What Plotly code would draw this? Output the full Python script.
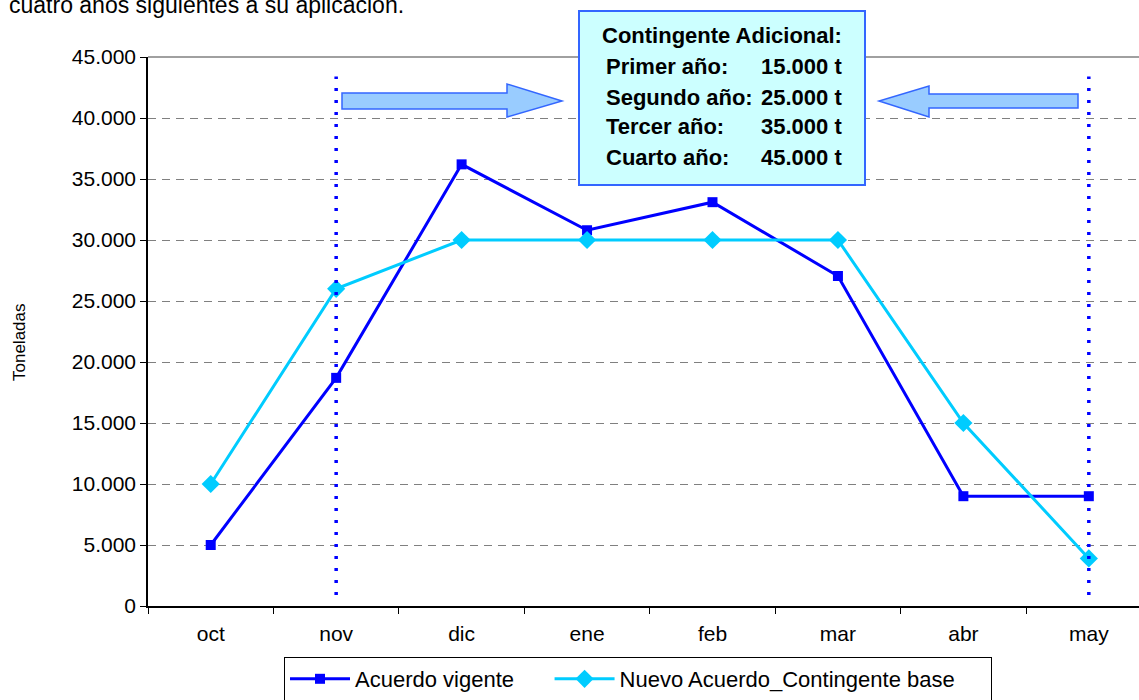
import plotly.graph_objects as go

MESES = ["oct", "nov", "dic", "ene", "feb", "mar", "abr", "may"]
ACUERDO_VIGENTE = [5000, 18700, 36200, 30800, 33100, 27050, 9000, 9000]
NUEVO_ACUERDO = [10000, 26000, 30000, 30000, 30000, 30000, 15000, 3900]

Y_TICKS = list(range(0, 45001, 5000))

CONTINGENTE_TITULO = "Contingente Adicional:"
CONTINGENTE_ANIOS = ["Primer año:", "Segundo año:", "Tercer año:", "Cuarto año:"]
CONTINGENTE_VALORES = ["15.000 t", "25.000 t", "35.000 t", "45.000 t"]

W, H = 1139, 700
L, R, T, B = 148, 0, 57, 94
PW, PH = W - L - R, H - T - B

FONT = "Liberation Sans, Arial, sans-serif"
BLUE = "#0000FF"
CYAN = "#00CCFF"
PAD = "\u00a0" * 5


def px(x):
    return (x - L) / PW


def py(y):
    return (H - B - y) / PH


def arrow_path(points):
    return "M " + " L ".join(f"{px(x):.5f},{py(y):.5f}" for x, y in points) + " Z"


fig = go.Figure()

fig.add_trace(
    go.Scatter(
        x=MESES,
        y=ACUERDO_VIGENTE,
        mode="lines+markers",
        name="Acuerdo vigente" + PAD,
        line={"color": BLUE, "width": 3},
        marker={"symbol": "square", "size": 10, "color": BLUE},
    )
)
fig.add_trace(
    go.Scatter(
        x=MESES,
        y=NUEVO_ACUERDO,
        mode="lines+markers",
        name="Nuevo Acuerdo_Contingente base" + PAD,
        line={"color": CYAN, "width": 3},
        marker={"symbol": "diamond", "size": 14, "color": CYAN},
    )
)

shapes = []
# dotted markers for nov and may
for mes in ["nov", "may"]:
    shapes.append(
        dict(
            type="line", xref="x", yref="y",
            x0=MESES.index(mes), x1=MESES.index(mes), y0=900, y1=43400,
            line={"color": BLUE, "width": 3.5, "dash": "3px,9px"},
        )
    )
# solid top border
shapes.append(
    dict(type="line", xref="paper", yref="paper", x0=0, x1=1, y0=1, y1=1,
         line={"color": "#808080", "width": 1.5})
)
# arrows
shapes.append(
    dict(
        type="path", xref="paper", yref="paper",
        path=arrow_path([(342, 93), (507, 93), (507, 84), (562, 101), (507, 117), (507, 109), (342, 109)]),
        fillcolor="#99CCFF", line={"color": "#3366FF", "width": 1.5},
    )
)
shapes.append(
    dict(
        type="path", xref="paper", yref="paper",
        path=arrow_path([(1078, 94), (929, 94), (929, 86), (879, 101), (929, 117), (929, 108), (1078, 108)]),
        fillcolor="#99CCFF", line={"color": "#3366FF", "width": 1.5},
    )
)
# info box
shapes.append(
    dict(
        type="rect", xref="paper", yref="paper",
        x0=px(579), x1=px(865), y0=py(185), y1=py(11),
        fillcolor="#CCFFFF", line={"color": "#3366FF", "width": 2},
    )
)

annotations = [
    dict(
        text="cuatro años siguientes a su aplicación.",
        xref="paper", yref="paper", x=px(7), y=py(5),
        xanchor="left", yanchor="middle", showarrow=False,
        font={"family": FONT, "size": 23, "color": "#000000"},
    ),
    dict(
        text="Toneladas",
        xref="paper", yref="paper", x=px(19), y=py(342),
        xanchor="center", yanchor="middle", showarrow=False, textangle=-90,
        font={"family": FONT, "size": 17, "color": "#000000"},
    ),
    dict(
        text=f"<b>{CONTINGENTE_TITULO}</b>",
        xref="paper", yref="paper", x=px(722), y=py(36),
        xanchor="center", yanchor="middle", showarrow=False,
        font={"family": FONT, "size": 22, "color": "#000000"},
    ),
]
for i, (anio, valor) in enumerate(zip(CONTINGENTE_ANIOS, CONTINGENTE_VALORES)):
    y_line = 67 + 30 * i
    annotations.append(
        dict(
            text=f"<b>{anio}</b>", xref="paper", yref="paper", x=px(604), y=py(y_line),
            xanchor="left", yanchor="middle", showarrow=False,
            font={"family": FONT, "size": 22, "color": "#000000"},
        )
    )
    annotations.append(
        dict(
            text=f"<b>{valor}</b>", xref="paper", yref="paper", x=px(759), y=py(y_line),
            xanchor="left", yanchor="middle", showarrow=False,
            font={"family": FONT, "size": 22, "color": "#000000"},
        )
    )

fig.update_layout(
    width=W,
    height=H,
    margin={"l": L, "r": R, "t": T, "b": B, "autoexpand": False},
    paper_bgcolor="white",
    plot_bgcolor="white",
    separators=",.",
    font={"family": FONT, "size": 21, "color": "#000000"},
    shapes=shapes,
    annotations=annotations,
    showlegend=True,
    legend={
        "orientation": "h",
        "x": px(638),
        "xanchor": "center",
        "y": py(657),
        "yanchor": "top",
        "bordercolor": "#000000",
        "borderwidth": 1,
        "bgcolor": "white",
        "font": {"family": FONT, "size": 22},
        "itemwidth": 60,
    },
)

fig.update_xaxes(
    type="category",
    categoryorder="array",
    categoryarray=MESES,
    range=[-0.5, 7.4],
    showgrid=False,
    showline=True,
    linecolor="#000000",
    linewidth=1.5,
    ticks="outside",
    tickson="boundaries",
    ticklen=6,
    tickcolor="#000000",
    tickfont={"family": FONT, "size": 21},
    ticklabelstandoff=8,
)
fig.update_yaxes(
    range=[0, 45000],
    tickvals=Y_TICKS,
    tickformat=",d",
    showgrid=True,
    gridcolor="#808080",
    gridwidth=1,
    griddash="8px,6px",
    showline=True,
    linecolor="#000000",
    linewidth=1.5,
    ticks="outside",
    ticklen=6,
    tickcolor="#000000",
    tickfont={"family": FONT, "size": 21},
    zeroline=False,
)

fig.write_html(
    "out.html",
    config={"displayModeBar": False},
    post_script="document.body.style.margin='0px';",
)
